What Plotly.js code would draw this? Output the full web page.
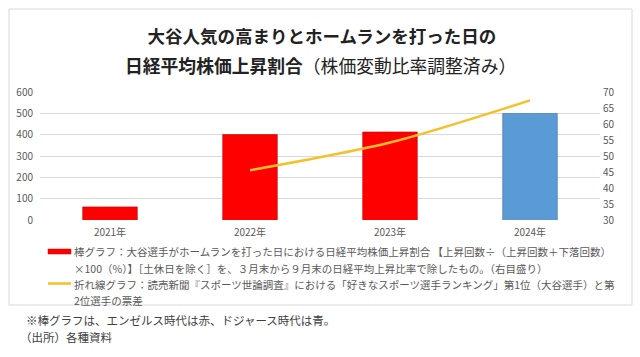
<!DOCTYPE html>
<html>
<head>
<meta charset="utf-8">
<script src="https://cdn.plot.ly/plotly-3.0.1.min.js"></script>
<style>
html,body{margin:0;padding:0;background:#fff;}
#chart{width:640px;height:357px;}
</style>
</head>
<body>
<div id="chart"></div>
<script>
// ---- data ----
const categories = ['2021年', '2022年', '2023年', '2024年'];
const barTeams = ['エンゼルス', 'エンゼルス', 'エンゼルス', 'ドジャース'];
const barValues = [34.1, 56.7, 57.5, 63.3];          // right axis (30-70)
const lineCategories = ['2022年', '2023年', '2024年'];
const lineValues = [233, 363, 561];                   // left axis (0-600)

const titleLine1 = '大谷人気の高まりとホームランを打った日の';
const titleLine2Bold = '日経平均株価上昇割合';
const titleLine2Rest = '（株価変動比率調整済み）';
const legendLines = [
  '棒グラフ：大谷選手がホームランを打った日における日経平均株価上昇割合 【上昇回数÷（上昇回数＋下落回数）',
  '×100（%）】［土休日を除く］を、３月末から９月末の日経平均上昇比率で除したもの。（右目盛り）',
  '折れ線グラフ：読売新聞『スポーツ世論調査』における「好きなスポーツ選手ランキング」第1位（大谷選手）と第',
  '2位選手の票差'
];
const noteLines = [
  '※棒グラフは、エンゼルス時代は赤、ドジャース時代は青。',
  '（出所）各種資料'
];

// ---- layout helpers ----
const W = 640, H = 357;
const M = {l: 40, r: 40, t: 92, b: 137};
const PW = W - M.l - M.r, PH = H - M.t - M.b;
const px = x => (x - M.l) / PW;
const py = y => (H - M.b - y) / PH;

const teamColor = {'エンゼルス': '#FF0000', 'ドジャース': '#5B9BD5'};
const teamEdge = {'エンゼルス': '#C00000', 'ドジャース': '#41719C'};

const FONT = '"Noto Sans CJK JP", "Noto Sans", sans-serif';

const traces = [
  {
    type: 'bar',
    x: categories,
    y: barValues,
    yaxis: 'y',
    width: 0.39,
    marker: {
      color: barTeams.map(t => teamColor[t]),
      line: {color: barTeams.map(t => teamEdge[t]), width: 0.6}
    },
    hoverinfo: 'x+y'
  },
  {
    type: 'scatter',
    mode: 'lines',
    x: lineCategories,
    y: lineValues,
    yaxis: 'y2',
    line: {color: '#F5C02A', width: 2.5, shape: 'spline', smoothing: 0.8},
    hoverinfo: 'x+y'
  }
];

const annotations = [];
annotations.push({
  xref: 'paper', yref: 'paper', x: px(320), y: py(65),
  xanchor: 'center', yanchor: 'middle', showarrow: false,
  text: '<b>' + titleLine2Bold + '</b>' + titleLine2Rest,
  font: {family: FONT, size: 17.8, color: '#222222'}
});
const legendY = [251, 268, 284, 300];
legendLines.forEach((t, i) => {
  annotations.push({
    xref: 'paper', yref: 'paper', x: px(72), y: py(legendY[i]),
    xanchor: 'left', yanchor: 'middle', showarrow: false,
    text: t, font: {family: FONT, size: 10.5, color: '#595959'}
  });
});
const noteY = [320, 337];
const noteX = [24, 18];
noteLines.forEach((t, i) => {
  annotations.push({
    xref: 'paper', yref: 'paper', x: px(noteX[i]), y: py(noteY[i]),
    xanchor: 'left', yanchor: 'middle', showarrow: false,
    text: t, font: {family: FONT, size: 11.5, color: '#404040'}
  });
});

const shapes = [
  {type: 'rect', xref: 'paper', yref: 'paper',
   x0: px(9), x1: px(632), y0: py(9), y1: py(305),
   line: {color: '#D9D9D9', width: 1}, fillcolor: 'rgba(0,0,0,0)', layer: 'below'},
  {type: 'rect', xref: 'paper', yref: 'paper',
   x0: px(48), x1: px(71), y0: py(249), y1: py(254),
   line: {color: '#C00000', width: 0.5}, fillcolor: '#FF0000'},
  {type: 'line', xref: 'paper', yref: 'paper',
   x0: px(48), x1: px(71), y0: py(283.5), y1: py(283.5),
   line: {color: '#F5C02A', width: 2.5}}
];

const layout = {
  width: W, height: H,
  margin: M,
  paper_bgcolor: '#ffffff',
  plot_bgcolor: 'rgba(0,0,0,0)',
  showlegend: false,
  font: {family: FONT, color: '#595959'},
  title: {
    text: '<b>' + titleLine1 + '</b>',
    x: 0.503, xanchor: 'center', y: 1 - 36.5 / H, yanchor: 'middle',
    font: {family: FONT, size: 17.5, color: '#222222'}
  },
  bargap: 0.6,
  xaxis: {
    type: 'category',
    categoryorder: 'array', categoryarray: categories,
    showgrid: false, showline: false, zeroline: false,
    ticks: '', tickfont: {size: 10, color: '#595959'},
    ticklabelstandoff: 5,
    fixedrange: true
  },
  yaxis: {
    side: 'right',
    range: [30, 70], dtick: 5, tick0: 30,
    showgrid: false, zeroline: false, showline: false,
    ticks: '', tickfont: {size: 10, color: '#595959'},
    ticklabelstandoff: 2,
    fixedrange: true
  },
  yaxis2: {
    overlaying: 'y', side: 'left',
    range: [0, 600], dtick: 100, tick0: 0,
    showgrid: true, gridcolor: '#D9D9D9', gridwidth: 1,
    zeroline: false, showline: false,
    ticks: '', tickfont: {size: 10, color: '#595959'},
    ticklabelstandoff: 6,
    fixedrange: true
  },
  annotations: annotations,
  shapes: shapes
};

Plotly.newPlot('chart', traces, layout, {staticPlot: true, displayModeBar: false});
</script>
</body>
</html>
